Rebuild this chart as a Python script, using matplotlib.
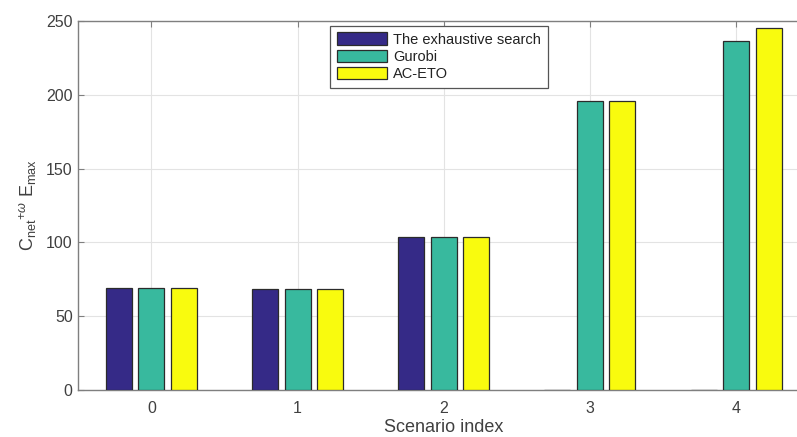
import numpy as np
import matplotlib
matplotlib.use("Agg")
import matplotlib.pyplot as plt

plt.rcParams['font.family'] = ['Liberation Sans', 'DejaVu Sans']
plt.rcParams['mathtext.fontset'] = 'custom'
plt.rcParams['mathtext.rm'] = 'Liberation Sans'
plt.rcParams['mathtext.it'] = 'Liberation Sans:italic'

scenarios = [0, 1, 2, 3, 4]
series_names = ["The exhaustive search", "Gurobi", "AC-ETO"]
exhaustive = [68.8, 68.4, 103.8, 0, 0]
gurobi = [68.8, 68.4, 103.8, 195.8, 236.6]
ac_eto = [68.8, 68.4, 103.8, 195.8, 245.5]
yticks = [0, 50, 100, 150, 200, 250]

colors = ["#352A87", "#38B99E", "#F9FB0E"]
text_col = "#404040"
frame_col = "#7f7f7f"

fig = plt.figure(figsize=(7.97, 4.37), dpi=100)
ax = fig.add_axes([0.0982, 0.1076, 0.917, 0.8444])

x = np.arange(len(scenarios))
group_w = 3 / 4.5
step = group_w / 3
bar_w = step * 0.8
for i, (vals, name, c) in enumerate(zip([exhaustive, gurobi, ac_eto], series_names, colors)):
    ax.bar(x + (i - 1) * step, vals, width=bar_w, color=c, edgecolor="#2b2b2b",
           linewidth=0.9, label=name, zorder=3)

ax.set_xlim(-0.5, 4.5)
ax.set_ylim(0, 250)
ax.set_xticks(x)
ax.set_xticklabels([str(s) for s in scenarios])
ax.set_yticks(yticks)
ax.grid(True, color="#e3e3e3", linewidth=0.8, zorder=0)
ax.set_axisbelow(True)
ax.tick_params(direction="in", top=True, right=False, length=4, colors=frame_col,
               labelcolor=text_col, labelsize=11.5)
ax.tick_params(axis="x", pad=8)
ax.tick_params(axis="y", pad=4)
ax.spines["right"].set_visible(False)
for sp in ax.spines.values():
    sp.set_color(frame_col)
    sp.set_linewidth(1.0)

ax.set_xlabel("Scenario index", fontsize=13, color=text_col, labelpad=2)
ax.set_ylabel(r"C$_{\rm net}$$^{+\omega}$ E$_{\rm max}$", fontsize=13,
              color=text_col, labelpad=5)

leg = ax.legend(loc="upper left", bbox_to_anchor=(0.341, 0.995), fontsize=10.5,
                fancybox=False, framealpha=1, edgecolor="#555555",
                handlelength=3.4, handleheight=0.95, borderpad=0.45,
                labelspacing=0.2, handletextpad=0.45, borderaxespad=0.2)
leg.get_frame().set_linewidth(0.9)
for t in leg.get_texts():
    t.set_color("#222222")

fig.savefig("out.png", dpi=100)
